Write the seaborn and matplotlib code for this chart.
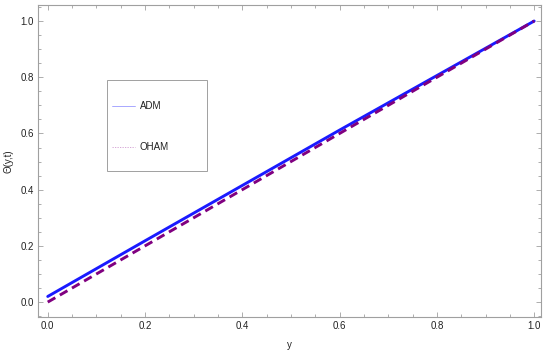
import numpy as np
import pandas as pd
import matplotlib
matplotlib.use("Agg")
import matplotlib.pyplot as plt
from matplotlib.lines import Line2D
from matplotlib.patches import Rectangle
from matplotlib.ticker import MultipleLocator
import seaborn as sns

# data
y_vals = [0.0, 0.2, 0.4, 0.6, 0.8, 1.0]
adm = [0.02, 0.218, 0.415, 0.612, 0.806, 1.0]
oham = [0.0, 0.2, 0.4, 0.6, 0.8, 1.0]
x_ticks = [0.0, 0.2, 0.4, 0.6, 0.8, 1.0]
y_ticks = [0.0, 0.2, 0.4, 0.6, 0.8, 1.0]
labels = ["ADM", "OHAM"]

sns.set_style("ticks")
plt.rcParams["font.family"] = ["Liberation Sans", "DejaVu Sans"]

fig = plt.figure(figsize=(5.5, 3.53), dpi=100)
ax = fig.add_axes([38/550, 36/353, (541-38)/550, (348-36)/353])

df_adm = pd.DataFrame({"y": y_vals, "theta": adm})
df_oham = pd.DataFrame({"y": y_vals, "theta": oham})
sns.lineplot(data=df_adm, x="y", y="theta", ax=ax, color="#1a1aff", lw=2.1, legend=False)
sns.lineplot(data=df_oham, x="y", y="theta", ax=ax, color="#800080", lw=2.1,
             linestyle=(0, (3.0, 1.8)), legend=False)

ax.set_xlim(-0.02, 1.014)
ax.set_ylim(-0.053, 1.057)
ax.set_xticks(x_ticks)
ax.set_yticks(y_ticks)
ax.set_xticklabels([f"{t:.1f}" for t in x_ticks])
ax.set_yticklabels([f"{t:.1f}" for t in y_ticks])
ax.xaxis.set_minor_locator(MultipleLocator(0.05))
ax.yaxis.set_minor_locator(MultipleLocator(0.05))

fc = "#a0a0a0"
for s in ax.spines.values():
    s.set_color(fc)
    s.set_linewidth(0.8)
ax.tick_params(which="both", direction="in", top=True, right=True, color=fc,
               labelsize=7, labelcolor="#222222", width=0.6, pad=3)
ax.tick_params(which="major", length=3.5)
ax.tick_params(which="minor", length=2)

ax.set_xlabel("y", fontsize=7, color="#222222", labelpad=6)
ax.set_ylabel("Θ(y,t)", fontsize=7, color="#222222", labelpad=5)

# legend box drawn like the reference
fig.add_artist(Rectangle((107/550, 1-171/353), (207-107)/550, (171-80)/353,
                         transform=fig.transFigure, fill=False, edgecolor="#a0a0a0", lw=0.7))
fig.add_artist(Line2D([112/550, 135/550], [1-106/353]*2, transform=fig.transFigure,
                      color="#9a9aff", lw=0.6))
fig.add_artist(Line2D([112/550, 135/550], [1-147/353]*2, transform=fig.transFigure,
                      color="#d09ad0", lw=0.6, linestyle=(0, (1.5, 1.5))))
fig.text(140/550, 1-106/353, labels[0], fontsize=7, va="center", ha="left", color="#222222")
fig.text(140/550, 1-147/353, labels[1], fontsize=7, va="center", ha="left", color="#222222")

fig.savefig("out.png", dpi=100)
